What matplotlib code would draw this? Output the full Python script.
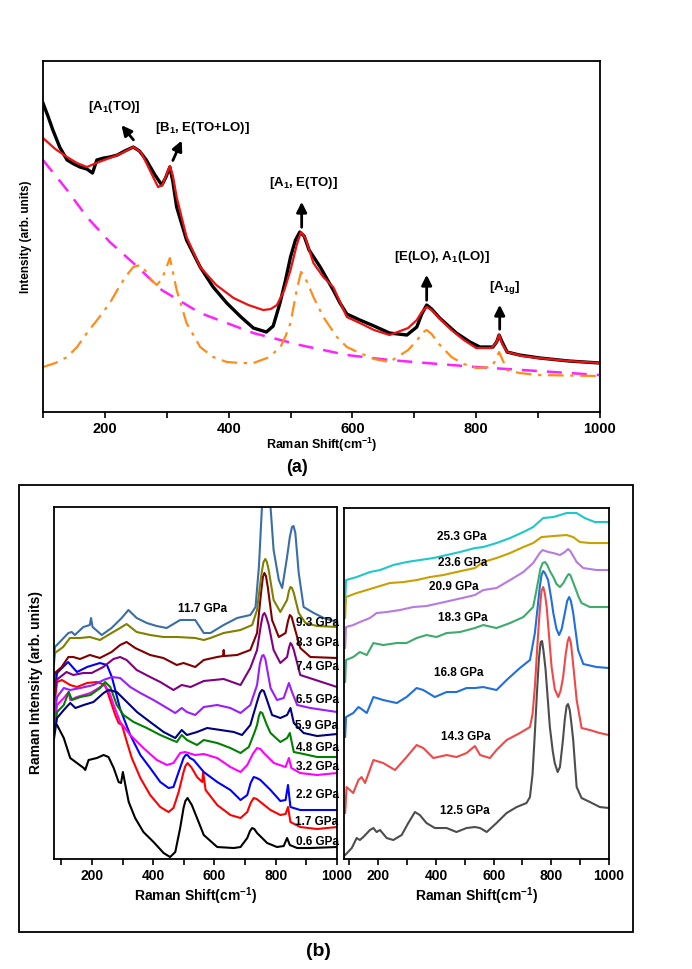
import matplotlib
matplotlib.use("Agg")
import matplotlib.pyplot as plt
from matplotlib.patches import Rectangle
from matplotlib.ticker import MultipleLocator

plt.rcParams["font.family"] = ["Liberation Sans", "DejaVu Sans"]
plt.rcParams["font.weight"] = "bold"
plt.rcParams["mathtext.fontset"] = "custom"
plt.rcParams["mathtext.rm"] = "Liberation Sans:bold"
plt.rcParams["mathtext.it"] = "Liberation Sans:bold"
plt.rcParams["mathtext.bf"] = "Liberation Sans:bold"
plt.rcParams["mathtext.default"] = "rm"

# ==========================================
# DATA - PANEL (a): fitted spectrum at ambient
# ==========================================

exp_x = [100, 108, 116, 127, 139, 150, 160, 171, 180, 187, 198, 208, 220, 232, 246, 256,
         267, 280, 292, 298, 305, 310, 316, 332, 354, 375, 397, 420, 440, 461, 472,
         483, 492, 500, 508, 515, 522, 530, 548, 569, 580, 591, 612, 635, 660, 688,
         704, 712, 720, 728, 741, 768, 790, 806, 827, 833, 837, 842, 850, 870, 903,
         950, 1000]
exp_y = [309, 296, 282, 265, 252, 248, 245, 243, 239, 252, 254, 255, 257, 261, 265, 261,
         252, 238, 227, 234, 245, 230, 205, 172, 145, 125, 109, 95, 84, 80, 86,
         109, 132, 155, 172, 180, 176, 162, 145, 122, 109, 98, 92, 86, 79, 77,
         85, 98, 107, 103, 94, 79, 70, 65, 65, 70, 77, 70, 60, 57, 54,
         51, 49]

fit_x = [100, 120, 139, 155, 171, 190, 208, 228, 246, 258, 267, 278, 286, 293, 298,
         305, 310, 316, 332, 354, 380, 408, 432, 456, 468, 478, 490, 500, 510, 517,
         524, 537, 553, 569, 580, 591, 612, 635, 660, 690, 704, 712, 720, 728, 740,
         760, 780, 800, 825, 833, 837, 842, 850, 875, 900, 950, 1000]
fit_y = [274, 263, 255, 249, 245, 250, 254, 259, 265, 260, 249, 235, 225, 227, 235,
         246, 236, 215, 175, 145, 127, 114, 107, 102, 103, 107, 122, 142, 167, 180,
         174, 149, 135, 125, 110, 95, 89, 82, 77, 84, 92, 100, 105, 102, 94,
         82, 72, 64, 64, 70, 77, 68, 60, 56, 54, 51, 49]

bg_x = [100, 139, 171, 208, 246, 292, 354, 440, 515, 591, 660, 800, 1000]
bg_y = [252, 222, 195, 170, 149, 122, 99, 79, 67, 57, 52, 45, 37]

peak_x = [100, 120, 139, 155, 171, 190, 208, 222, 233, 246, 257, 266, 275, 284, 292,
          298, 305, 310, 316, 332, 354, 375, 397, 420, 440, 462, 483, 492, 500, 510,
          517, 524, 537, 553, 575, 591, 612, 635, 660, 690, 705, 712, 720, 728, 740,
          760, 780, 800, 825, 832, 837, 842, 850, 870, 900, 1000]
peak_y = [45, 49, 55, 65, 79, 94, 109, 124, 135, 145, 147, 141, 132, 127, 133,
          142, 154, 140, 122, 89, 65, 55, 50, 49, 49, 54, 64, 76, 89, 122,
          140, 134, 115, 95, 75, 65, 59, 53, 50, 62, 72, 79, 82, 78, 68,
          55, 48, 44, 45, 53, 60, 53, 42, 39, 37, 36]

mode_labels = [r"[A$_{1}$(TO)]", r"[B$_{1}$, E(TO+LO)]", r"[A$_{1}$, E(TO)]",
               r"[E(LO), A$_{1}$(LO)]", r"[A$_{1g}$]"]
mode_text_xy = [(216, 305), (358, 284), (520, 229), (745, 155), (846, 125)]
mode_arrow_tail = [(249, 270), (308, 249), (518, 182), (720, 109), (838, 80)]
mode_arrow_head = [(224, 289), (326, 274), (518, 213), (720, 140), (838, 110)]

# ==========================================
# DATA - PANEL (b) LEFT: 0.6 - 11.7 GPa
# ==========================================

p06_x = [76, 86, 108, 129, 151, 173, 178, 189, 216, 238, 254, 271, 287, 295, 301, 309,
         320, 341, 368, 401, 434, 455, 472, 488, 499, 505, 512, 518, 526, 543, 565,
         609, 663, 685, 707, 716, 723, 730, 739, 772, 804, 826, 837, 846, 870, 913,
         1000]
p06_y = [136, 134, 121, 101, 96, 91, 89, 99, 101, 104, 102, 91, 77, 76, 87, 74,
         57, 41, 27, 17, 6, 2, 7, 31, 51, 58, 61, 58, 54, 41, 24,
         12, 11, 12, 21, 28, 31, 30, 26, 16, 12, 13, 21, 14, 11, 11,
         12]

p17_x = [76, 86, 102, 129, 151, 184, 216, 243, 254, 276, 287, 298, 314, 330, 358, 390,
         423, 450, 466, 483, 499, 505, 512, 518, 526, 543, 560, 563, 571, 609, 652,
         685, 707, 718, 728, 738, 750, 783, 815, 832, 840, 848, 880, 935, 1000]
p17_y = [150, 177, 179, 174, 172, 176, 177, 174, 164, 144, 136, 134, 117, 101, 81, 64,
         52, 47, 51, 67, 87, 93, 96, 94, 91, 82, 77, 87, 69, 54, 44,
         41, 47, 56, 61, 60, 57, 49, 44, 45, 52, 37, 32, 30, 32]

p22_x = [76, 86, 122, 151, 184, 226, 249, 265, 292, 325, 358, 390, 423, 450, 466, 483,
         499, 506, 512, 520, 532, 565, 609, 652, 685, 707, 718, 728, 738, 750, 783,
         815, 832, 840, 848, 880, 1000]
p22_y = [160, 186, 197, 187, 192, 196, 194, 182, 150, 124, 104, 91, 77, 71, 72, 87,
         101, 104, 104, 101, 99, 87, 77, 69, 59, 64, 76, 82, 81, 79, 69,
         58, 59, 74, 52, 49, 49]

p32_x = [76, 86, 108, 124, 129, 151, 195, 238, 254, 271, 292, 325, 368, 412, 445, 466,
         488, 504, 537, 565, 609, 652, 685, 707, 725, 739, 750, 761, 794, 832, 843,
         851, 880, 935, 1000]
p32_y = [130, 154, 161, 167, 159, 162, 166, 174, 169, 154, 137, 124, 111, 99, 94, 96,
         106, 107, 104, 105, 101, 92, 87, 94, 105, 111, 110, 106, 96, 92, 101,
         91, 86, 84, 86]

p48_x = [76, 86, 108, 124, 135, 162, 195, 227, 243, 260, 281, 303, 336, 379, 423, 461,
         477, 493, 510, 543, 565, 609, 652, 685, 712, 730, 739, 745, 750, 756, 761,
         771, 783, 815, 837, 846, 859, 891, 935, 1000]
p48_y = [125, 147, 154, 167, 159, 162, 164, 171, 177, 172, 154, 144, 137, 131, 124, 119,
         117, 124, 119, 114, 119, 116, 111, 106, 112, 126, 134, 143, 147, 146, 142,
         134, 126, 117, 121, 126, 107, 105, 102, 102]

p59_x = [76, 86, 108, 129, 146, 173, 205, 238, 254, 281, 314, 347, 390, 434, 472, 493,
         510, 543, 576, 620, 663, 690, 717, 739, 748, 755, 761, 768, 788, 815, 837,
         848, 859, 891, 935, 1000]
p59_y = [120, 141, 149, 156, 151, 154, 157, 166, 169, 167, 157, 147, 137, 127, 121, 129,
         124, 127, 131, 129, 127, 124, 134, 157, 166, 169, 168, 162, 144, 141, 144,
         151, 136, 126, 123, 125]

p65_x = [76, 86, 108, 129, 162, 205, 238, 265, 292, 325, 358, 401, 445, 472, 493, 510,
         537, 565, 609, 652, 685, 717, 739, 748, 755, 760, 766, 773, 783, 804, 826,
         843, 853, 870, 913, 1000]
p65_y = [140, 162, 171, 169, 171, 174, 179, 182, 181, 172, 166, 159, 151, 146, 151, 147,
         144, 152, 154, 151, 146, 154, 174, 195, 203, 204, 200, 188, 171, 159, 161,
         176, 167, 154, 151, 147]

p74_x = [76, 84, 117, 139, 172, 199, 237, 270, 292, 313, 346, 390, 423, 466, 493, 522,
         565, 630, 685, 717, 739, 747, 752, 758, 763, 768, 777, 793, 815, 837, 843,
         848, 853, 859, 880, 1000]
p74_y = [160, 179, 187, 184, 186, 186, 192, 200, 202, 199, 189, 182, 177, 169, 174, 172,
         178, 180, 174, 191, 209, 225, 235, 244, 246, 243, 234, 209, 196, 202, 211,
         216, 214, 209, 184, 172]

p83_x = [76, 79, 101, 123, 139, 161, 193, 226, 264, 292, 313, 341, 390, 433, 477, 499,
         537, 565, 609, 628, 630, 632, 674, 717, 739, 746, 752, 758, 763, 768, 774,
         788, 810, 832, 840, 846, 852, 859, 880, 913, 1000]
p83_y = [170, 186, 192, 202, 202, 200, 204, 201, 207, 214, 217, 211, 204, 201, 194, 196,
         192, 199, 202, 203, 209, 203, 204, 209, 226, 248, 266, 282, 286, 283, 272,
         239, 222, 226, 238, 244, 242, 234, 211, 202, 201]

p93_x = [76, 79, 106, 128, 161, 193, 226, 264, 292, 313, 346, 390, 433, 477, 537, 565,
         587, 630, 685, 723, 739, 748, 755, 760, 766, 771, 777, 793, 815, 837, 843,
         848, 853, 859, 875, 897, 935, 1000]
p93_y = [195, 206, 212, 221, 221, 222, 219, 226, 231, 235, 227, 224, 222, 222, 221, 219,
         221, 226, 229, 234, 249, 272, 288, 297, 300, 297, 289, 259, 247, 259, 268,
         272, 271, 266, 246, 236, 233, 232]

p117_x = [76, 79, 95, 123, 134, 144, 172, 193, 197, 202, 232, 264, 297, 319, 346, 379,
          411, 444, 488, 537, 565, 587, 630, 674, 717, 734, 745, 755, 770, 783, 793,
          810, 821, 837, 846, 853, 858, 864, 875, 891, 924, 957, 1000]
p117_y = [200, 212, 217, 226, 227, 224, 232, 234, 241, 232, 224, 231, 241, 249, 241, 236,
          233, 231, 239, 239, 226, 226, 234, 241, 244, 252, 292, 352, 395, 352, 309,
          279, 271, 302, 322, 332, 333, 326, 286, 252, 246, 241, 237]

left_x = [p06_x, p17_x, p22_x, p32_x, p48_x, p59_x, p65_x, p74_x, p83_x, p93_x, p117_x]
left_y = [p06_y, p17_y, p22_y, p32_y, p48_y, p59_y, p65_y, p74_y, p83_y, p93_y, p117_y]
left_names = ["0.6 GPa", "1.7 GPa", "2.2 GPa", "3.2 GPa", "4.8 GPa", "5.9 GPa",
              "6.5 GPa", "7.4 GPa", "8.3 GPa", "9.3 GPa", "11.7 GPa"]
left_colors = ["#000000", "#ff0000", "#0000ff", "#ff00ff", "#008000", "#000080",
               "#9b1cff", "#800080", "#800000", "#808000", "#3a6ea5"]
left_label_y = [17, 37, 64, 92, 111, 133, 159, 192, 216, 236, 250]

# ==========================================
# DATA - PANEL (b) RIGHT: 12.5 - 25.3 GPa
# ==========================================

p125_x = [81, 85, 108, 125, 136, 148, 171, 183, 194, 206, 229, 252, 281, 304, 327, 344,
          367, 396, 437, 471, 506, 535, 553, 576, 610, 645, 680, 714, 726, 735, 743,
          750, 757, 763, 768, 773, 780, 795, 805, 812, 822, 830, 840, 847, 853, 858,
          864, 870, 876, 882, 888, 905, 934, 968, 1000]
p125_y = [3, 4, 11, 21, 19, 22, 29, 31, 27, 29, 21, 19, 24, 36, 47, 44,
          36, 31, 31, 27, 31, 32, 31, 27, 36, 46, 52, 56, 62, 85, 126,
          165, 200, 217, 218, 208, 190, 132, 108, 96, 87, 92, 118, 140, 153, 155,
          149, 135, 119, 95, 72, 61, 57, 52, 51]

p143_x = [81, 85, 90, 113, 131, 142, 154, 183, 217, 258, 298, 333, 356, 391, 437, 471,
          506, 535, 553, 587, 610, 645, 691, 726, 735, 743, 752, 760, 766, 772, 778,
          784, 801, 812, 824, 832, 841, 850, 857, 862, 868, 874, 888, 905, 934, 968,
          1000]
p143_y = [46, 46, 72, 66, 79, 82, 76, 99, 96, 89, 102, 114, 111, 101, 104, 102,
          106, 113, 104, 101, 109, 119, 126, 132, 145, 172, 215, 249, 268, 272, 265,
          252, 192, 170, 162, 168, 182, 205, 218, 222, 216, 200, 159, 131, 129, 126,
          124]

p168_x = [81, 85, 88, 113, 131, 142, 160, 183, 217, 264, 298, 333, 356, 396, 437, 471,
          506, 535, 564, 610, 645, 691, 726, 743, 752, 760, 766, 772, 778, 789, 800,
          807, 818, 827, 836, 847, 855, 862, 868, 876, 893, 911, 957, 1000]
p168_y = [122, 122, 142, 146, 152, 150, 146, 162, 159, 156, 162, 171, 169, 162, 167, 167,
          171, 171, 172, 169, 179, 191, 199, 226, 250, 272, 284, 288, 286, 279, 260,
          246, 230, 224, 230, 246, 258, 262, 258, 246, 209, 195, 192, 191]

p183_x = [81, 85, 88, 113, 136, 160, 183, 217, 264, 298, 333, 367, 402, 437, 483, 535,
          564, 610, 657, 703, 737, 748, 755, 762, 770, 778, 786, 795, 807, 818, 830,
          842, 853, 860, 866, 874, 882, 895, 905, 934, 1000]
p183_y = [177, 177, 199, 202, 207, 204, 216, 214, 216, 216, 221, 224, 222, 226, 227, 231,
          234, 231, 236, 242, 252, 268, 279, 290, 296, 297, 294, 288, 282, 275, 272,
          276, 282, 285, 284, 278, 272, 262, 256, 252, 252]

p209_x = [81, 85, 88, 113, 136, 171, 194, 229, 275, 321, 367, 414, 460, 506, 535, 564,
          610, 657, 703, 737, 760, 770, 790, 807, 830, 847, 858, 866, 888, 911, 957,
          1000]
p209_y = [211, 211, 232, 234, 237, 241, 246, 247, 249, 252, 253, 256, 259, 262, 264, 269,
          271, 279, 287, 296, 306, 309, 307, 306, 304, 307, 310, 308, 297, 291, 289,
          289]

p236_x = [81, 85, 88, 125, 160, 194, 240, 287, 333, 379, 425, 471, 535, 564, 610, 657,
          703, 737, 766, 807, 853, 876, 899, 934, 1000]
p236_y = [241, 241, 262, 266, 269, 272, 276, 277, 279, 282, 284, 287, 291, 297, 301, 306,
          312, 316, 322, 323, 324, 322, 317, 316, 316]

p253_x = [81, 85, 88, 125, 171, 206, 252, 298, 344, 391, 437, 483, 535, 564, 610, 657,
          703, 737, 772, 807, 853, 888, 916, 951, 1000]
p253_y = [257, 257, 279, 282, 287, 289, 294, 297, 299, 301, 304, 307, 311, 312, 316, 321,
          327, 332, 341, 342, 346, 346, 341, 337, 337]

right_x = [p125_x, p143_x, p168_x, p183_x, p209_x, p236_x, p253_x]
right_y = [p125_y, p143_y, p168_y, p183_y, p209_y, p236_y, p253_y]
right_names = ["12.5 GPa", "14.3 GPa", "16.8 GPa", "18.3 GPa", "20.9 GPa",
               "23.6 GPa", "25.3 GPa"]
right_colors = ["#4d4d4d", "#f04848", "#1f6fdc", "#3cab6b", "#b57be0",
                "#c9a000", "#1ec8c8"]
right_label_xy = [(500, 48), (504, 122), (480, 186), (494, 241), (462, 272),
                  (494, 296), (490, 322)]

# ==========================================
# FIGURE
# ==========================================

fig = plt.figure(figsize=(6.92, 9.69), dpi=100)


def style_axis(ax, size):
    for s in ax.spines.values():
        s.set_linewidth(1.3)
    ax.xaxis.set_major_locator(MultipleLocator(200))
    ax.xaxis.set_minor_locator(MultipleLocator(100))
    ax.tick_params(axis="x", which="both", direction="out", length=4, width=1.2,
                   labelsize=size, pad=3)
    ax.set_yticks([])
    for t in ax.get_xticklabels():
        t.set_fontweight("bold")


# ---------- panel (a) ----------
ax1 = fig.add_axes([0.0621, 0.5748, 0.8049, 0.3622])
ax1.plot(bg_x, bg_y, color="#ff22ff", lw=1.8, ls=(0, (6, 4)))
ax1.plot(peak_x, peak_y, color="#ff8c1a", lw=1.6, ls=(0, (7, 3, 1.5, 3)))
ax1.plot(exp_x, exp_y, color="black", lw=2.4)
ax1.plot(fit_x, fit_y, color="#ee1111", lw=1.6)
ax1.set_xlim(100, 1000)
ax1.set_ylim(0, 351)
style_axis(ax1, 10.5)
ax1.set_xlabel(r"Raman Shift(cm$^{-1}$)", fontsize=9, fontweight="bold", labelpad=0)
ax1.set_ylabel("Intensity (arb. units)", fontsize=8.5, fontweight="bold", labelpad=8)

for lab, txy, tail, head in zip(mode_labels, mode_text_xy, mode_arrow_tail, mode_arrow_head):
    ax1.text(txy[0], txy[1], lab, ha="center", va="center", fontsize=9.5,
             fontweight="bold")
    ax1.annotate("", xy=head, xytext=tail,
                 arrowprops=dict(arrowstyle="-|>,head_length=0.6,head_width=0.3",
                                 color="black", lw=2))

fig.text(0.429, 1 - 467 / 969, "(a)", fontsize=13, fontweight="bold",
         ha="center", va="center")

# ---------- panel (b) outer frame ----------
fig.patches.append(Rectangle((0.0275, 0.0382), 0.8872, 0.4613, transform=fig.transFigure,
                             fill=False, edgecolor="black", lw=1.3))
fig.text(0.46, 1 - 952 / 969, "(b)", fontsize=14, fontweight="bold",
         ha="center", va="center")

# ---------- panel (b) left ----------
ax2 = fig.add_axes([0.078, 0.1135, 0.409, 0.3633])
for x, y, c in zip(left_x, left_y, left_colors):
    ax2.plot(x, y, color=c, lw=1.5)
ax2.set_xlim(76, 1000)
ax2.set_ylim(0, 352)
style_axis(ax2, 10)
ax2.set_xlabel(r"Raman Shift(cm$^{-1}$)", fontsize=10, fontweight="bold", labelpad=2)
ax2.set_ylabel("Raman Intensity (arb. units)", fontsize=10, fontweight="bold", labelpad=8)
for name, ly in zip(left_names[:-1], left_label_y[:-1]):
    ax2.text(1005, ly, name, ha="right", va="center", fontsize=8.5,
             fontweight="bold", clip_on=False, zorder=5)
ax2.text(560, left_label_y[-1], left_names[-1], ha="center", va="center",
         fontsize=8.5, fontweight="bold")

# ---------- panel (b) right ----------
ax3 = fig.add_axes([0.4971, 0.1135, 0.3829, 0.3622])
for x, y, c in zip(right_x, right_y, right_colors):
    ax3.plot(x, y, color=c, lw=1.5)
ax3.set_xlim(81, 1000)
ax3.set_ylim(0, 351)
style_axis(ax3, 10)
ax3.set_xlabel(r"Raman Shift(cm$^{-1}$)", fontsize=10, fontweight="bold", labelpad=2)
for name, (lx, ly) in zip(right_names, right_label_xy):
    ax3.text(lx, ly, name, ha="center", va="center", fontsize=8.5, fontweight="bold")

plt.savefig("out.png", dpi=100)
plt.close()
